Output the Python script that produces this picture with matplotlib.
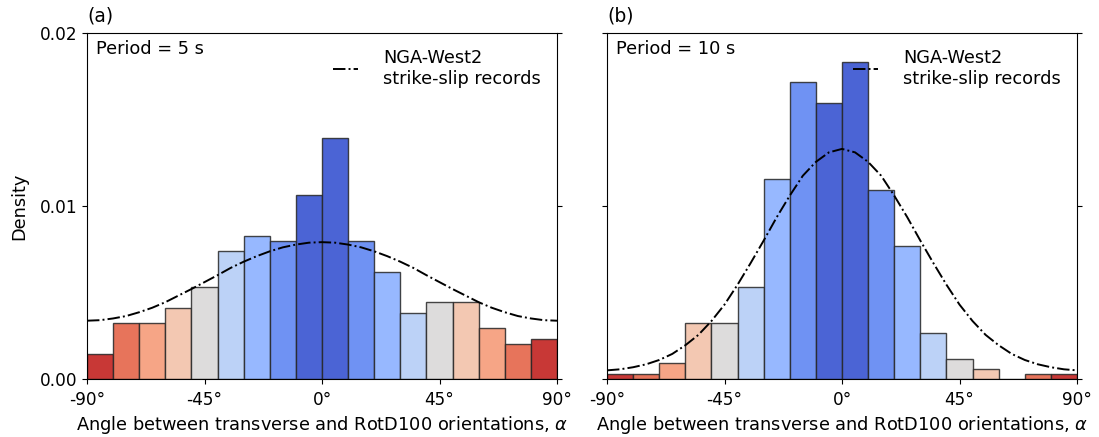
import numpy as np
import matplotlib
matplotlib.use("Agg")
import matplotlib.pyplot as plt

# Histogram bins (degrees)
bin_edges = np.arange(-90, 91, 10)

# Panel (a) densities, Period = 5 s
dens_5s = [0.00145, 0.00324, 0.00324, 0.00411, 0.00533, 0.00740, 0.00828, 0.00800, 0.01066,
           0.01392, 0.00800, 0.00620, 0.00382, 0.00444, 0.00444, 0.00293, 0.00205, 0.00234]
# Panel (b) densities, Period = 10 s
dens_10s = [0.00029, 0.00029, 0.00090, 0.00325, 0.00325, 0.00533, 0.01154, 0.01715, 0.01598,
            0.01835, 0.01094, 0.00769, 0.00265, 0.00117, 0.00060, 0.0, 0.00029, 0.00029]

# NGA-West2 reference curves (every 5 degrees)
curve_angles = np.arange(-90, 91, 5)
curve_half_5s = [7.91, 7.88, 7.77, 7.61, 7.38, 7.10, 6.78, 6.42, 6.00, 5.60, 5.20, 4.82,
                 4.44, 4.12, 3.86, 3.64, 3.50, 3.40, 3.37]           # 0..90 deg, x1e-3
curve_half_10s = [13.3, 13.1, 12.55, 11.75, 10.6, 9.35, 8.0, 6.7, 5.45, 4.3, 3.35, 2.55,
                  1.95, 1.45, 1.1, 0.85, 0.68, 0.56, 0.5]           # 0..90 deg, x1e-3

def full_curve(half):
    h = np.array(half) * 1e-3
    return np.concatenate([h[::-1], h[1:]])

xtick_vals = [-90, -45, 0, 45, 90]
xtick_labels = ['-90°', '-45°', '0°', '45°', '90°']
ytick_vals = [0.0, 0.01, 0.02]
ytick_labels = ['0.00', '0.01', '0.02']

panels = [
    ('(a)', 'Period = 5 s', dens_5s, curve_half_5s),
    ('(b)', 'Period = 10 s', dens_10s, curve_half_10s),
]

fig = plt.figure(figsize=(10.99, 4.37), dpi=100)
ax_boxes = [[87/1099, 58/437, 470/1099, 346/437],
            [607/1099, 58/437, 470/1099, 346/437]]

cmap = plt.get_cmap('coolwarm')
centers = (bin_edges[:-1] + bin_edges[1:]) / 2

for i, (tag, period, dens, half) in enumerate(panels):
    ax = fig.add_axes(ax_boxes[i])
    colors = [cmap(abs(c) / 90.0) for c in centers]
    ax.bar(centers, dens, width=10, color=colors, edgecolor=(0.15, 0.15, 0.15, 0.85),
           linewidth=1.0, zorder=2)
    ax.plot(curve_angles, full_curve(half), color='black', linestyle='-.', linewidth=1.4,
            label='NGA-West2\nstrike-slip records', zorder=3)
    ax.set_xlim(-90, 90)
    ax.set_ylim(0, 0.02)
    ax.set_xticks(xtick_vals)
    ax.set_xticklabels(xtick_labels)
    ax.set_yticks(ytick_vals)
    ax.tick_params(axis='y', left=True, right=True, labelsize=12.2)
    ax.tick_params(axis='x', labelsize=12.2, pad=5)
    if i == 0:
        ax.set_yticklabels(ytick_labels)
        ax.set_ylabel('Density', fontsize=12.8, labelpad=8)
    else:
        ax.set_yticklabels([])
    ax.set_xlabel(r'Angle between transverse and RotD100 orientations, $\alpha$',
                  fontsize=12.8, labelpad=4)
    ax.set_title(tag, loc='left', fontsize=13.5, pad=8)
    ax.text(0.02, 0.98, period, transform=ax.transAxes, fontsize=12.8, va='top', ha='left')
    ax.legend(loc='upper right', frameon=False, fontsize=12.8, handlelength=1.4,
              handletextpad=1.4)

fig.savefig('out.png', dpi=100)
